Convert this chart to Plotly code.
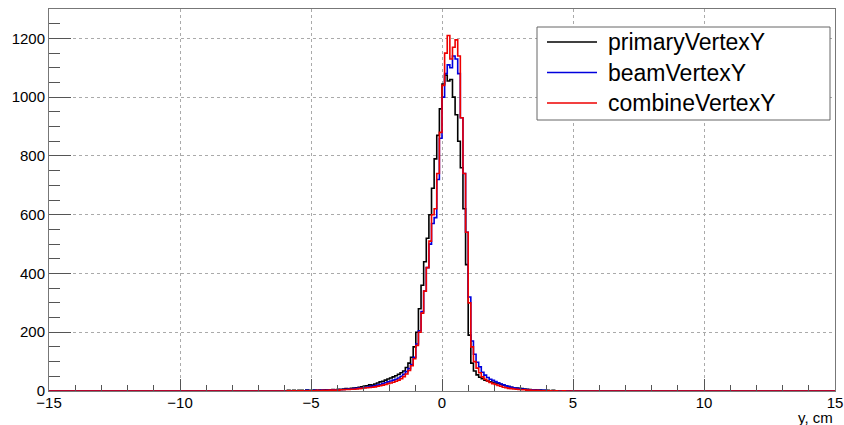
import numpy as np
import plotly.graph_objects as go

# ---- data: histogram counts, bin width 0.1, bins covering y in [-6, 5) ----
bin_width = 0.1
x_min, x_max = -15.0, 15.0
data_start = -6.0   # left edge of first listed bin

primary = [
    1, 2, 1, 2, 1, 2, 2, 1, 3, 2,
    2, 3, 2, 3, 3, 4, 3, 4, 5, 4,
    6, 5, 7, 8, 7, 9, 10, 11, 13, 14,
    17, 18, 21, 20, 24, 27, 31, 33, 37, 41,
    44, 48, 52, 57, 62, 68, 80, 95, 115, 150,
    200, 280, 360, 440, 520, 600, 690, 790, 870, 960,
    1045, 1075, 1055, 1060, 1000, 940, 850, 760, 620, 430,
    190, 95, 68, 55, 47, 42, 37, 34, 31, 29,
    27, 26, 23, 20, 18, 15, 13, 11, 10, 9,
    8, 7, 6, 5, 4, 4, 3, 3, 2, 2,
    2, 1, 2, 1, 1, 1, 0, 1, 1, 0,
]
beam = [
    0, 1, 1, 1, 0, 1, 1, 1, 2, 1,
    1, 2, 2, 2, 3, 2, 3, 3, 4, 4,
    4, 5, 5, 6, 7, 7, 8, 9, 10, 11,
    12, 13, 15, 16, 18, 20, 22, 25, 28, 31,
    34, 37, 40, 44, 50, 57, 66, 76, 90, 115,
    160, 205, 270, 340, 420, 500, 570, 590, 720, 860,
    1000, 1080, 1110, 1100, 1140, 1130, 1080, 930, 740, 540,
    320, 170, 125, 98, 82, 64, 54, 46, 40, 36,
    32, 28, 24, 21, 18, 15, 13, 11, 9, 8,
    7, 6, 5, 4, 4, 3, 3, 2, 2, 2,
    1, 1, 1, 1, 0, 1, 0, 1, 0, 0,
]
combine = [
    0, 1, 0, 1, 0, 1, 1, 0, 1, 1,
    1, 1, 2, 1, 2, 2, 2, 3, 3, 3,
    3, 4, 4, 5, 5, 6, 6, 7, 8, 9,
    10, 11, 12, 13, 14, 16, 18, 20, 22, 25,
    27, 30, 33, 37, 42, 49, 58, 70, 86, 110,
    155, 200, 265, 340, 420, 510, 600, 620, 740, 880,
    1040, 1150, 1210, 1130, 1170, 1195, 1140, 930, 740, 540,
    300, 150, 100, 78, 62, 48, 40, 34, 29, 25,
    22, 19, 16, 13, 11, 9, 8, 7, 6, 5,
    4, 4, 3, 3, 2, 2, 2, 1, 1, 1,
    1, 1, 0, 1, 0, 0, 1, 0, 0, 0,
]
series_names = ["primaryVertexY", "beamVertexY", "combineVertexY"]
series_colors = ["#000000", "#0000dd", "#ee0000"]
y_ticks = [0, 200, 400, 600, 800, 1000, 1200]
x_ticks = [-15, -10, -5, 0, 5, 10, 15]

# ---- build full-range histograms (empty bins outside the listed region) ----
n_bins = int(round((x_max - x_min) / bin_width))
edges = np.round(x_min + bin_width * np.arange(n_bins + 1), 3)
offset = int(round((data_start - x_min) / bin_width))


def full_hist(vals):
    h = np.zeros(n_bins)
    h[offset:offset + len(vals)] = vals
    return h


fig = go.Figure()
for name, vals, col in zip(series_names, [primary, beam, combine], series_colors):
    h = full_hist(vals)
    xs = np.append(edges[:-1], edges[-1])
    ys = np.append(h, h[-1])
    fig.add_trace(go.Scatter(x=xs, y=ys, mode="lines", name=name,
                             line=dict(color=col, width=1.6, shape="hv"),
                             showlegend=False))

font_family = "Liberation Sans, Arial, Helvetica, sans-serif"
W, H = 844, 425
ml, mr, mt, mb = 49, 9, 9, 34
pw, ph = W - ml - mr, H - mt - mb


def px(xp):
    return (xp - ml) / pw


def py(yp):
    return (H - mb - yp) / ph


fig.update_layout(
    width=W, height=H,
    margin=dict(l=ml, r=mr, t=mt, b=mb, pad=0),
    paper_bgcolor="white", plot_bgcolor="white",
    font=dict(family=font_family, size=15, color="black"),
    showlegend=False,
)
fig.update_xaxes(
    range=[x_min, x_max], tickvals=x_ticks, ticks="inside", ticklen=12,
    tickcolor="#555", tickwidth=1, automargin=False, ticklabelstandoff=-2,
    showline=True, linecolor="#777", linewidth=1, mirror=True,
    showgrid=True, gridcolor="#aaa", griddash="dot", gridwidth=1,
    zeroline=False,
    minor=dict(ticks="inside", ticklen=6, dtick=1, tickcolor="#555", showgrid=False),
    tickfont=dict(size=15),
)
fig.update_yaxes(
    range=[0, 1300], tickvals=y_ticks, ticks="inside", ticklen=22,
    tickcolor="#555", tickwidth=1, automargin=False,
    showline=True, linecolor="#777", linewidth=1, mirror=True,
    showgrid=True, gridcolor="#aaa", griddash="dot", gridwidth=1,
    zeroline=False,
    minor=dict(ticks="inside", ticklen=11, dtick=50, tickcolor="#555", showgrid=False),
    tickfont=dict(size=15),
)

# axis title at right end
fig.add_annotation(x=1.0, y=py(417), xref="paper", yref="paper", text="y, cm",
                   showarrow=False, xanchor="right", yanchor="middle",
                   font=dict(size=15, family=font_family))

# legend box (ROOT style)
fig.add_shape(type="rect", xref="paper", yref="paper",
              x0=px(537), x1=px(830), y0=py(120), y1=py(27),
              line=dict(color="#666", width=1), fillcolor="white", layer="above")
for i, (name, col) in enumerate(zip(series_names, series_colors)):
    yy = py(42 + i * 30.5)
    fig.add_shape(type="line", xref="paper", yref="paper",
                  x0=px(547), x1=px(597), y0=yy, y1=yy,
                  line=dict(color=col, width=1.5), layer="above")
    fig.add_annotation(x=px(606), y=yy, xref="paper", yref="paper", text=name,
                       showarrow=False, xanchor="left", yanchor="middle",
                       font=dict(size=23, family=font_family, color="black"))

fig.write_html("out.html", config={"displayModeBar": False},
               post_script="document.body.style.margin='0';document.body.style.overflow='hidden';")
